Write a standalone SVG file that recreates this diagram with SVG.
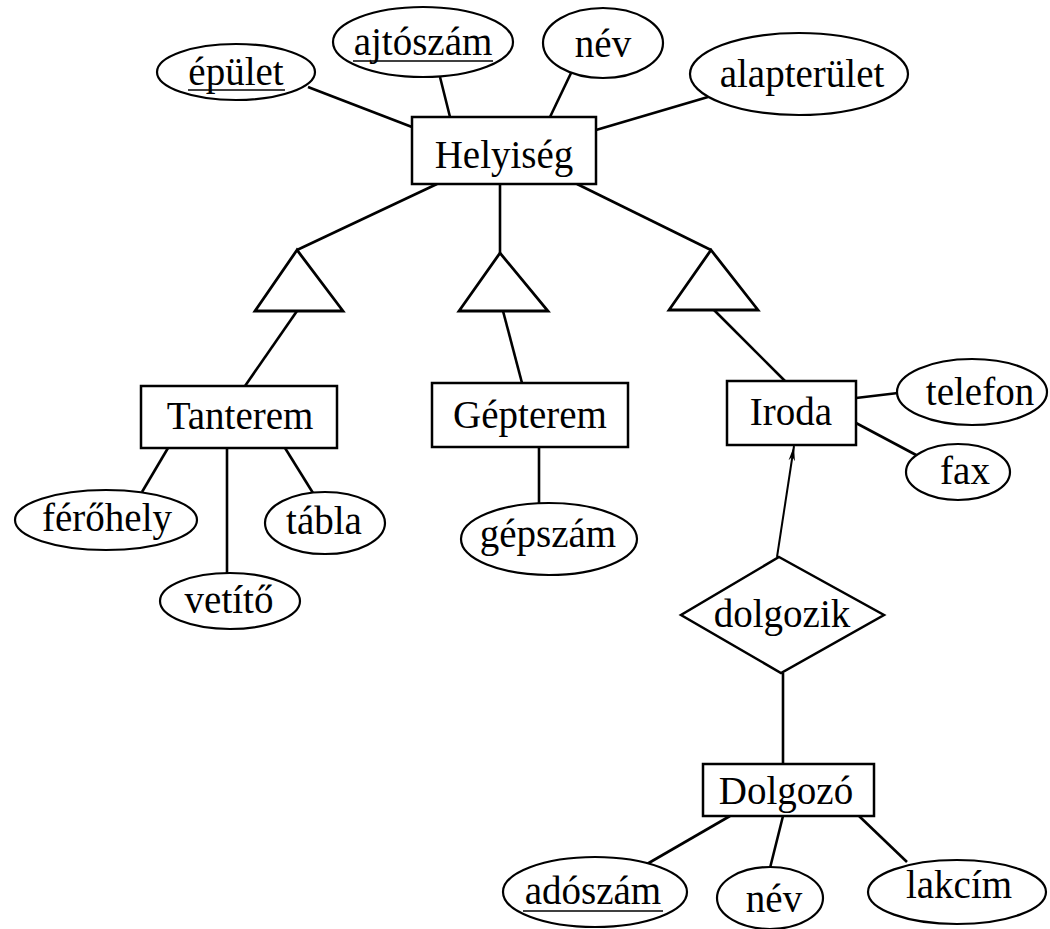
<svg xmlns="http://www.w3.org/2000/svg" width="1050" height="929" viewBox="0 0 1050 929">
<style>
  .bg{fill:#fff}
  .ent{fill:#fff;stroke:#000;stroke-width:2.5}
  .att{fill:#fff;stroke:#000;stroke-width:2.2}
  .isa{fill:#fff;stroke:#000;stroke-width:2.8}
  .rel{fill:#fff;stroke:#000;stroke-width:2.5}
  .edge{stroke:#000;stroke-width:2.6;fill:none}
  .thin{stroke:#000;stroke-width:2;fill:none}
  .ul{stroke:#000;stroke-width:1.5}
  text{font-family:"Liberation Serif","Times New Roman",serif;font-size:39px;fill:#000;text-anchor:middle}
</style>
<defs>
  <marker id="arr" markerWidth="16" markerHeight="10" refX="15" refY="5" orient="auto" markerUnits="userSpaceOnUse">
    <path d="M0,1.8 L15,5 L0,8.2 L4,5 Z" fill="#000"/>
  </marker>
</defs>
<rect class="bg" x="0" y="0" width="1050" height="929"/>
<g id="connectors">
  <line class="edge" x1="308" y1="87" x2="412" y2="127"/>
  <line class="edge" x1="440" y1="77" x2="450" y2="117"/>
  <line class="edge" x1="572" y1="71" x2="550" y2="117"/>
  <line class="edge" x1="708" y1="97" x2="596" y2="130"/>
  <line class="edge" x1="437" y1="184" x2="297" y2="250"/>
  <line class="edge" x1="500" y1="184" x2="500" y2="253"/>
  <line class="edge" x1="577" y1="184" x2="711" y2="250"/>
  <line class="edge" x1="297" y1="311" x2="245" y2="386"/>
  <line class="edge" x1="503" y1="311" x2="522" y2="383"/>
  <line class="edge" x1="714" y1="310" x2="785" y2="381"/>
  <line class="edge" x1="168" y1="448" x2="142" y2="492"/>
  <line class="edge" x1="227" y1="448" x2="227" y2="573"/>
  <line class="edge" x1="285" y1="448" x2="313" y2="493"/>
  <line class="edge" x1="539" y1="447" x2="539" y2="503"/>
  <line class="edge" x1="856" y1="398" x2="898" y2="393"/>
  <line class="edge" x1="856" y1="423" x2="918" y2="456"/>
  <line class="thin" x1="777" y1="557" x2="794" y2="446" marker-end="url(#arr)"/>
  <line class="edge" x1="783" y1="673" x2="783" y2="764"/>
  <line class="edge" x1="730" y1="816" x2="647" y2="864"/>
  <line class="edge" x1="783" y1="816" x2="770" y2="868"/>
  <line class="edge" x1="859" y1="816" x2="907" y2="862"/>
</g>
<g id="isa-left"><polygon class="isa" points="297,250 255,311 343,311"/></g>
<g id="isa-mid"><polygon class="isa" points="500,253 459,311 548,311"/></g>
<g id="isa-right"><polygon class="isa" points="711,250 669,310 758,310"/></g>
<g id="Helyiseg"><rect class="ent" x="412" y="117" width="184" height="67"/><text x="504" y="168">Helyiség</text></g>
<g id="epulet"><ellipse class="att" cx="236" cy="72" rx="79" ry="28"/><text x="236" y="85">épület</text><line class="ul" x1="188" y1="90" x2="285" y2="90"/></g>
<g id="ajtoszam"><ellipse class="att" cx="423" cy="42" rx="90" ry="35"/><text x="423" y="55">ajtószám</text><line class="ul" x1="353" y1="61" x2="493" y2="61"/></g>
<g id="nev1"><ellipse class="att" cx="603" cy="43" rx="60" ry="35"/><text x="603" y="57">név</text></g>
<g id="alapterulet"><ellipse class="att" cx="799" cy="74" rx="109" ry="41"/><text x="802" y="87">alapterület</text></g>
<g id="Tanterem"><rect class="ent" x="141" y="386" width="196" height="62"/><text x="240" y="429">Tanterem</text></g>
<g id="Gepterem"><rect class="ent" x="432" y="383" width="196" height="64"/><text x="530" y="428">Gépterem</text></g>
<g id="Iroda"><rect class="ent" x="727" y="381" width="129" height="64"/><text x="791" y="425">Iroda</text></g>
<g id="ferohely"><ellipse class="att" cx="106" cy="520" rx="91" ry="30"/><text x="107" y="531">férőhely</text></g>
<g id="vetito"><ellipse class="att" cx="230" cy="601" rx="70" ry="28"/><text x="229" y="613">vetítő</text></g>
<g id="tabla"><ellipse class="att" cx="325" cy="523" rx="60" ry="31"/><text x="324" y="534">tábla</text></g>
<g id="gepszam"><ellipse class="att" cx="549" cy="539" rx="88" ry="36"/><text x="548" y="547">gépszám</text></g>
<g id="telefon"><ellipse class="att" cx="972" cy="392" rx="75" ry="33"/><text x="980" y="405">telefon</text></g>
<g id="fax"><ellipse class="att" cx="958" cy="472" rx="52" ry="28"/><text x="965" y="484">fax</text></g>
<g id="dolgozik"><polygon class="rel" points="779,557 884,615 781,673 681,615"/><text x="782" y="627">dolgozik</text></g>
<g id="Dolgozo"><rect class="ent" x="703" y="764" width="171" height="52"/><text x="786" y="804">Dolgozó</text></g>
<g id="adoszam"><ellipse class="att" cx="595" cy="892" rx="92" ry="35"/><text x="593" y="904">adószám</text><line class="ul" x1="523" y1="911" x2="663" y2="911"/></g>
<g id="nev2"><ellipse class="att" cx="770" cy="898" rx="53" ry="31"/><text x="774" y="912">név</text></g>
<g id="lakcim"><ellipse class="att" cx="957" cy="892" rx="89" ry="32"/><text x="959" y="898">lakcím</text></g>
</svg>
